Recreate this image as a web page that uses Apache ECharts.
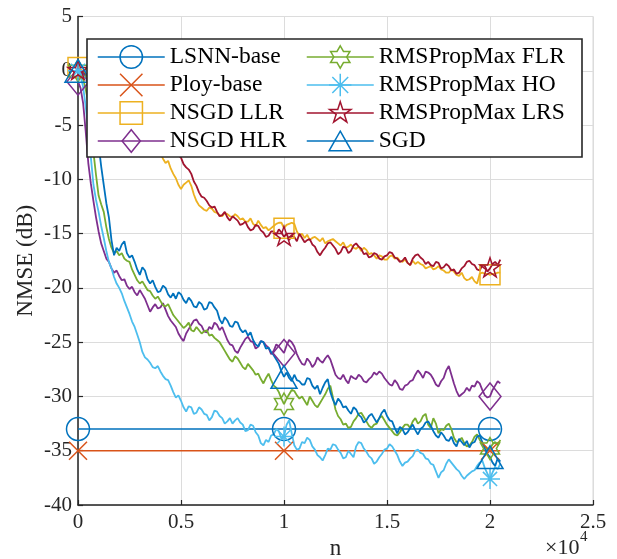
<!DOCTYPE html>
<html>
<head>
<meta charset="utf-8">
<script src="https://cdn.jsdelivr.net/npm/echarts@6.0.0/dist/echarts.min.js"></script>
<style>
  html, body { margin: 0; padding: 0; background: #fff; }
  #chart { width: 617px; height: 559px; }
</style>
</head>
<body>
<div id="chart"></div>
<script>
// sample positions (n) of the learning curves: every 125 iterations, 0..20500
var nIdx = [];
for (var n = 0; n <= 20500; n += 125) nIdx.push(n);

// baselines are flat
var baseN = [0, 10000, 20000, 20500];
var lsnnBase = [-33, -33, -33, -33];
var ployBase = [-35, -35, -35, -35];
// marker positions (MarkerIndices)
var markN = [0, 10000, 20000];

// NMSE in dB, one row = 2500 iterations
var nsgdLLR = [
  0.3, 0.1, 0.0, -0.3, -0.5, -0.8, -1.0, -1.3, -1.6, -1.8, -2.1, -2.3, -2.6, -2.8, -3.0, -3.3, -3.5, -3.7, -3.9, -4.1,
  -4.4, -4.6, -4.8, -5.0, -5.3, -5.5, -5.8, -6.1, -6.4, -6.6, -6.9, -7.2, -7.6, -8.1, -8.5, -8.3, -9.0, -9.5, -9.9, -10.5,
  -10.9, -10.5, -10.3, -10.1, -10.6, -11.4, -12.0, -12.4, -12.6, -12.8, -12.9, -12.6, -12.7, -13.0, -13.1, -13.3, -13.4, -13.1, -13.2, -13.4,
  -13.5, -13.2, -13.4, -13.7, -13.6, -13.9, -13.9, -13.6, -14.1, -14.3, -13.8, -14.2, -14.5, -14.4, -14.7, -14.5, -14.3, -14.1, -14.0, -14.0,
  -14.5, -14.2, -14.1, -14.0, -14.1, -14.8, -15.2, -15.0, -15.4, -15.1, -15.6, -15.4, -15.3, -15.5, -15.7, -15.4, -15.9, -15.7, -15.6, -15.5,
  -15.7, -15.9, -16.1, -15.8, -16.3, -16.2, -16.0, -16.3, -16.4, -16.2, -16.6, -16.3, -16.5, -16.9, -16.8, -17.0, -17.3, -17.0, -17.1, -17.4,
  -17.4, -17.1, -17.0, -17.3, -17.2, -17.5, -17.6, -17.4, -17.7, -17.9, -17.5, -17.8, -17.6, -17.8, -17.9, -18.2, -18.1, -18.0, -18.3, -18.2,
  -18.0, -18.3, -18.4, -18.6, -18.6, -18.3, -18.5, -18.8, -18.9, -18.6, -19.1, -19.3, -19.2, -19.0, -19.4, -19.6, -18.7, -18.6, -18.7, -18.7,
  -18.8, -18.7, -18.7, -18.6, -18.6
];
var nsgdHLR = [
  -1.0, -1.6, -3.0, -5.6, -8.5, -10.4, -12.0, -13.5, -14.8, -15.9, -16.6, -17.3, -17.6, -18.2, -18.6, -18.4, -18.9, -19.3, -19.2, -19.8,
  -20.1, -19.9, -20.4, -20.7, -20.2, -20.6, -21.0, -21.6, -22.2, -21.8, -21.5, -21.9, -21.8, -21.4, -22.0, -22.6, -23.0, -23.3, -23.6, -24.2,
  -24.6, -24.9, -24.2, -23.8, -23.4, -23.0, -22.9, -23.3, -23.5, -24.0, -24.1, -23.6, -23.8, -23.2, -23.4, -23.9, -23.6, -24.2, -24.8, -25.2,
  -25.3, -25.8, -26.0, -25.5, -25.1, -24.7, -24.5, -24.9, -25.0, -25.6, -25.4, -24.9, -25.0, -25.3, -25.5, -26.1, -25.8, -25.2, -25.4, -25.7,
  -26.0, -25.3, -24.8, -25.0, -25.4, -26.1, -26.6, -27.0, -27.1, -26.5, -26.8, -27.3, -27.0, -26.4, -26.7, -26.9, -26.5, -26.2, -26.6, -27.3,
  -28.0, -28.3, -28.4, -28.0, -28.5, -28.8, -28.1, -28.3, -28.4, -28.0, -28.2, -28.6, -28.7, -28.4, -28.2, -27.8, -28.0, -27.7, -27.9, -28.3,
  -28.6, -28.9, -29.0, -28.5, -28.8, -29.3, -29.4, -29.0, -28.9, -28.6, -28.5, -28.0, -27.6, -27.9, -28.3, -27.7, -27.8, -28.0, -28.4, -28.9,
  -29.1, -28.6, -28.3, -27.6, -27.2, -28.0, -28.8, -29.5, -30.0, -29.8, -29.6, -29.2, -29.5, -29.0, -29.1, -28.6, -28.8, -29.4, -29.9, -30.1,
  -30.0, -29.4, -29.0, -28.6, -28.8
];
var rmsFLR = [
  0, -0.3, -0.8, -1.7, -3.0, -5.2, -7.5, -9.6, -11.5, -12.3, -13.0, -14.4, -15.5, -16.3, -16.8, -16.6, -17.0, -16.8, -17.3, -17.5,
  -17.6, -18.3, -18.8, -19.3, -19.6, -19.4, -19.8, -20.2, -20.3, -20.7, -21.0, -20.8, -21.2, -21.6, -21.7, -21.5, -22.0, -22.5, -22.8, -23.1,
  -23.4, -23.7, -23.5, -23.2, -23.9, -24.0, -23.6, -23.9, -24.2, -24.0, -23.9, -24.4, -24.3, -24.6, -24.8, -25.0, -25.4, -25.8, -26.2, -26.6,
  -26.8, -26.3, -26.5, -26.9, -27.3, -27.5, -27.0, -27.3, -27.6, -28.0, -27.9, -28.4, -28.8, -28.3, -27.9, -28.5, -29.0, -29.2, -29.6, -30.2,
  -30.7, -30.2, -29.8, -29.4, -29.5, -29.9, -30.2, -30.0, -30.4, -30.8, -30.0, -30.4, -30.8, -31.0, -30.6, -30.2, -29.8, -29.3, -29.0, -30.1,
  -31.2, -31.8, -32.1, -32.6, -32.5, -32.9, -32.8, -32.3, -32.0, -31.6, -31.5, -31.9, -32.3, -32.7, -32.9, -32.6, -32.5, -32.0, -31.8, -32.2,
  -32.6, -32.9, -33.2, -33.5, -33.6, -33.3, -32.9, -32.6, -32.6, -32.9, -32.3, -32.0, -32.5, -32.3, -31.8, -31.6, -32.6, -32.9, -32.0, -32.5,
  -33.4, -33.0, -33.1, -32.7, -32.5, -33.0, -33.8, -34.2, -34.1, -33.8, -34.3, -34.6, -34.5, -34.2, -33.7, -33.5, -34.0, -34.4, -34.6, -34.9,
  -34.8, -34.4, -34.2, -34.5, -34.0
];
var rmsHO = [
  0, -0.5, -1.5, -3.3, -5.5, -8.0, -10.5, -11.9, -13.0, -14.3, -15.4, -16.6, -17.6, -18.2, -19.0, -19.6, -20.0, -20.5, -21.2, -21.8,
  -22.4, -23.1, -23.6, -24.3, -25.0, -25.9, -26.4, -26.6, -26.9, -27.3, -27.4, -27.2, -27.7, -28.1, -28.4, -28.5, -29.0, -29.6, -30.1, -29.9,
  -30.4, -31.0, -31.4, -30.9, -31.0, -31.6, -31.5, -31.0, -31.2, -31.6, -31.7, -32.2, -31.9, -31.3, -31.4, -31.8, -32.0, -32.5, -32.3, -32.0,
  -32.5, -32.2, -32.0, -32.4, -32.6, -33.2, -33.1, -32.6, -32.7, -33.3, -33.6, -34.3, -34.5, -34.0, -34.2, -33.6, -33.5, -33.0, -33.2, -33.9,
  -33.7, -32.6, -32.2, -33.4, -34.5, -34.9, -34.8, -34.2, -34.3, -33.8, -34.0, -34.6, -34.9, -35.4, -35.6, -35.9, -35.4, -34.8, -34.9, -34.4,
  -34.5, -34.9, -35.2, -35.7, -35.6, -35.0, -35.3, -35.6, -34.6, -34.2, -34.3, -34.8, -35.1, -35.5, -35.7, -36.2, -36.0, -35.6, -35.3, -34.9,
  -34.8, -34.4, -34.6, -35.0, -35.4, -36.0, -36.4, -36.1, -36.0, -35.7, -35.5, -35.0, -34.9, -35.2, -35.3, -35.7, -35.8, -36.2, -36.3, -36.9,
  -37.5, -37.0, -36.8, -36.2, -35.8, -36.1, -36.4, -36.7, -36.9, -37.3, -37.6, -37.3, -37.1, -36.9, -36.8, -36.4, -36.1, -35.9, -36.6, -37.1,
  -37.6, -37.0, -36.5, -36.7, -36.2
];
var rmsLRS = [
  0, -0.1, -0.2, -0.4, -0.5, -0.7, -0.8, -1.0, -1.2, -1.4, -1.6, -1.8, -2.0, -2.2, -2.4, -2.6, -2.8, -3.0, -3.2, -3.4,
  -3.6, -3.8, -4.0, -4.2, -4.4, -4.7, -4.9, -5.1, -5.3, -5.6, -5.8, -6.0, -6.2, -6.5, -6.7, -6.9, -7.1, -7.4, -7.6, -7.8,
  -8.0, -8.6, -8.9, -9.1, -9.5, -10.2, -10.6, -11.2, -11.6, -11.7, -12.0, -12.4, -12.6, -12.5, -13.0, -13.4, -13.3, -13.0, -13.5, -13.8,
  -13.4, -13.6, -13.8, -14.2, -14.1, -13.9, -14.4, -14.7, -14.6, -14.2, -14.3, -14.7, -14.9, -15.3, -15.2, -14.8, -14.8, -15.1, -14.6, -14.9,
  -15.3, -15.0, -15.6, -15.2, -15.3, -15.7, -15.0, -15.4, -15.8, -15.6, -15.5, -16.0, -16.2, -16.7, -17.0, -16.6, -16.3, -15.9, -15.8, -16.1,
  -16.4, -16.9, -16.7, -16.2, -16.3, -16.8, -16.6, -16.1, -15.9, -16.2, -16.4, -16.9, -16.8, -17.2, -17.1, -16.8, -16.9, -17.3, -17.4, -17.1,
  -17.0, -16.7, -16.8, -17.2, -17.3, -17.6, -17.5, -17.2, -17.7, -17.9, -17.3, -17.0, -16.9, -17.2, -17.4, -17.8, -17.6, -17.9, -18.0, -17.6,
  -17.7, -18.2, -18.1, -17.8, -18.0, -18.4, -18.3, -18.7, -18.6, -18.2, -18.0, -17.6, -17.5, -17.8, -17.9, -18.3, -18.4, -17.9, -18.0, -18.5,
  -18.2, -17.8, -17.6, -17.9, -17.4
];
var sgd = [
  0, -0.1, -0.3, -0.6, -1.2, -2.2, -3.5, -5.0, -6.8, -8.8, -10.5, -12.2, -13.5, -15.6, -17.0, -16.3, -16.6, -16.0, -15.7, -16.8,
  -17.2, -17.0, -17.6, -18.3, -18.8, -18.1, -18.4, -19.2, -19.6, -19.3, -19.9, -20.4, -20.3, -19.8, -20.0, -20.6, -20.9, -20.5, -21.0, -20.4,
  -20.6, -21.1, -21.4, -20.9, -21.2, -21.7, -21.8, -21.3, -21.5, -22.0, -21.9, -21.3, -21.4, -21.8, -22.1, -22.9, -23.3, -22.7, -23.0, -23.5,
  -23.6, -23.1, -23.2, -23.8, -24.1, -23.9, -24.4, -24.1, -24.8, -25.2, -25.4, -24.9, -25.0, -25.6, -25.5, -25.9, -26.2, -26.6, -27.0, -27.7,
  -28.2, -27.8, -28.3, -28.6, -28.0, -28.5, -28.6, -28.9, -28.9, -28.3, -28.4, -29.0, -29.3, -29.0, -29.8, -29.2, -28.7, -28.4, -29.6, -30.3,
  -30.8, -30.2, -30.5, -31.0, -30.9, -31.3, -31.6, -31.0, -31.2, -31.7, -31.9, -32.4, -32.2, -31.8, -31.6, -32.0, -32.4, -32.0, -31.5, -31.2,
  -31.8, -32.2, -32.3, -32.9, -33.4, -32.8, -33.0, -33.5, -33.3, -32.9, -32.6, -33.1, -33.5, -33.0, -32.8, -32.4, -32.3, -32.7, -33.2, -33.6,
  -33.8, -33.3, -33.6, -34.0, -34.1, -33.7, -34.3, -34.6, -33.9, -34.2, -34.5, -34.1, -34.7, -34.3, -34.2, -33.7, -33.6, -34.2, -34.8, -35.3,
  -35.6, -36.1, -36.4, -35.7, -36.0
];

var xTicks = ['0', '0.5', '1', '1.5', '2', '2.5'];

// MATLAB-like marker outlines (stroked, no fill)
var mk = {
  circle: 'path://M24,12A12,12,0,1,1,0,12A12,12,0,1,1,24,12Z',
  cross: 'path://M0,0L24,24M24,0L0,24',
  square: 'path://M0,0L24,0L24,24L0,24Z',
  diamond: 'path://M0,0M27,27M13.5,0L24.5,13.5L13.5,27L2.5,13.5Z',
  hexagram: 'path://M0,0M24,24M12,0L15.46,6L22.39,6L18.93,12L22.39,18L15.46,18L12,24L8.54,18L1.61,18L5.07,12L1.61,6L8.54,6Z',
  asterisk: 'path://M12,0L12,24M0,12L24,12M3.5,3.5L20.5,20.5M20.5,3.5L3.5,20.5',
  pentagram: 'path://M0,0M24,24M12,0L14.69,8.29L23.41,8.29L16.36,13.42L19.05,21.71L12,16.58L4.95,21.71L7.64,13.42L0.59,8.29L9.31,8.29Z',
  triangle: 'path://M0,-1.5M24,22.5M12,0L24,21L0,21Z'
};

var font = 'Liberation Serif';

function makeData(xs, ys) {
  if (xs.length !== ys.length) throw new Error('length mismatch ' + xs.length + ' vs ' + ys.length);
  return xs.map(function (n, i) {
    if (markN.indexOf(n) >= 0) return [n, ys[i]];
    return { value: [n, ys[i]], symbol: 'none' };
  });
}

function makeSeries(name, xs, ys, color, symbol, size, width) {
  return {
    name: name,
    type: 'line',
    z: 2,
    data: makeData(xs, ys),
    symbol: symbol,
    symbolSize: size,
    showAllSymbol: true,
    clip: false,
    lineStyle: { color: color, width: width },
    itemStyle: { color: 'rgba(0,0,0,0)', borderColor: color, borderWidth: 1.5 },
    emphasis: { disabled: true }
  };
}

var seriesDefs = [
  ['LSNN-base', baseN, lsnnBase, '#0072BD', mk.circle, 23, 1.5],
  ['Ploy-base', baseN, ployBase, '#D95319', mk.cross, 18, 1.5],
  ['NSGD LLR', nIdx, nsgdLLR, '#EDB120', mk.square, 20, 1.8],
  ['NSGD HLR', nIdx, nsgdHLR, '#7E2F8E', mk.diamond, 27, 1.8],
  ['RMSPropMax FLR', nIdx, rmsFLR, '#77AC30', mk.hexagram, 22, 1.8],
  ['RMSPropMax HO', nIdx, rmsHO, '#4DBEEE', mk.asterisk, 20, 1.8],
  ['RMSPropMax LRS', nIdx, rmsLRS, '#A2142F', mk.pentagram, 21, 1.8],
  ['SGD', nIdx, sgd, '#0072BD', mk.triangle, 26, 1.8]
];

function legendItems(defs) {
  return defs.map(function (d) {
    return {
      name: d[0],
      itemStyle: { color: 'rgba(0,0,0,0)', borderColor: d[3], borderWidth: 1.5 },
      lineStyle: { color: d[3], width: 1.5 }
    };
  });
}

function legendAt(left, defs) {
  return {
    z: 10,
    left: left,
    top: 45,
    orient: 'vertical',
    padding: 0,
    itemWidth: 67,
    itemHeight: 28,
    itemGap: 4,
    selectedMode: false,
    textStyle: { fontFamily: font, fontSize: 23.5, color: '#000' },
    data: legendItems(defs)
  };
}

var myChart = echarts.init(document.getElementById('chart'), null, { renderer: 'canvas' });

var option = {
  animation: false,
  backgroundColor: '#fff',
  grid: {
    left: 78, right: 24, top: 16.5, bottom: 54,
    outerBoundsMode: 'none',
    containLabel: false,
    show: true, borderColor: '#d9d9d9', borderWidth: 1, backgroundColor: 'transparent'
  },
  legend: [legendAt(97, seriesDefs.slice(0, 4)), legendAt(306, seriesDefs.slice(4))],
  xAxis: {
    type: 'value',
    min: 0, max: 25000, interval: 5000,
    name: 'n',
    nameLocation: 'middle',
    nameGap: 32,
    nameMoveOverlap: false,
    nameTextStyle: { fontFamily: font, fontSize: 23, color: '#262626' },
    axisLine: { onZero: false, lineStyle: { color: '#262626', width: 1.5 } },
    axisTick: { inside: true, length: 5, lineStyle: { color: '#262626', width: 1.2 } },
    axisLabel: {
      margin: 7, fontFamily: font, fontSize: 21, color: '#262626',
      formatter: function (v) { return xTicks[Math.round(v / 5000)]; }
    },
    splitLine: { show: true, lineStyle: { color: '#dcdcdc', width: 1 } }
  },
  yAxis: {
    type: 'value',
    min: -40, max: 5, interval: 5,
    name: 'NMSE (dB)',
    nameLocation: 'middle',
    nameGap: 41,
    nameMoveOverlap: false,
    nameTextStyle: { fontFamily: font, fontSize: 23, color: '#262626' },
    axisLine: { show: true, onZero: false, lineStyle: { color: '#262626', width: 1.5 } },
    axisTick: { show: true, inside: true, length: 5, lineStyle: { color: '#262626', width: 1.2 } },
    axisLabel: { margin: 6, fontFamily: font, fontSize: 21, color: '#262626' },
    splitLine: { show: true, lineStyle: { color: '#dcdcdc', width: 1 } }
  },
  graphic: {
    z: 8,
    elements: [
      // legend box, drawn over the curves and under the legend entries
      {
        type: 'rect', z: 8,
        shape: { x: 87, y: 39, width: 495, height: 118 },
        style: { fill: '#fff', stroke: '#262626', lineWidth: 1.6 }
      },
      {
        type: 'text', z: 8, left: 545, top: 537,
        style: { text: '\u00d710', font: '22px "Liberation Serif"', fill: '#262626' }
      },
      {
        type: 'text', z: 8, left: 580, top: 530,
        style: { text: '4', font: '15px "Liberation Serif"', fill: '#262626' }
      }
    ]
  },
  series: seriesDefs.map(function (d) {
    return makeSeries(d[0], d[1], d[2], d[3], d[4], d[5], d[6]);
  })
};

myChart.setOption(option);
window.addEventListener('resize', function () { myChart.resize(); });
</script>
</body>
</html>
